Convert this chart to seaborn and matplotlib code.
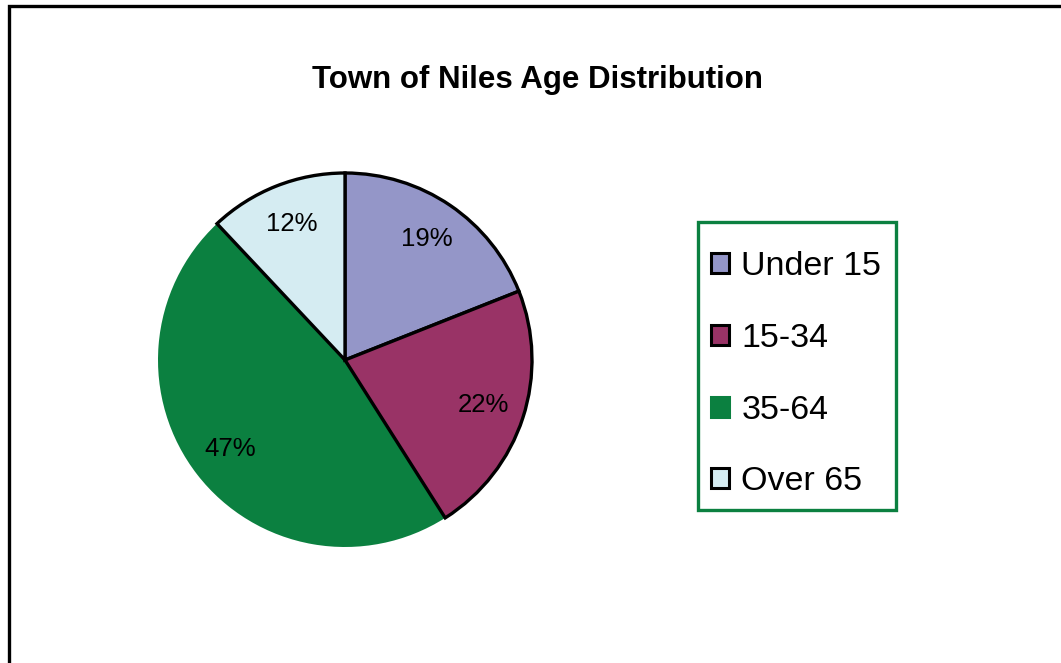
import matplotlib
matplotlib.use("Agg")
import matplotlib.pyplot as plt
from matplotlib.patches import Patch, Rectangle
import seaborn as sns

# data
age_groups = ["Under 15", "15-34", "35-64", "Over 65"]
shares = [19, 22, 47, 12]
slice_colors = ["#9496C8", "#993366", "#0B8040", "#D5ECF2"]
edge_colors = ["black", "black", "none", "black"]

sns.set_theme(style="white")
plt.rcParams["font.family"] = ["Liberation Sans", "DejaVu Sans"]
plt.rcParams["text.color"] = "black"

W, H = 1061, 663
fig = plt.figure(figsize=(W / 100, H / 100), dpi=100)
fig.patch.set_facecolor("white")

# pie placed so that centre ~ (346, 360) px and radius ~ 186 px
cx, cy, r = 345, 360, 187
lim = 1.03
half = r * lim
ax = fig.add_axes([(cx - half) / W, (H - cy - half) / H, 2 * half / W, 2 * half / H])

wedges, texts, autotexts = ax.pie(
    shares, colors=slice_colors, startangle=90, counterclock=False,
    autopct=lambda p: f"{p:.0f}%", pctdistance=0.78,
    textprops=dict(fontsize=18.5, color="black"),
)
for w, ec in zip(wedges, edge_colors):
    if ec == "none":
        w.set_edgecolor(w.get_facecolor())
        w.set_linewidth(0)
        w.set_zorder(1)
    else:
        w.set_edgecolor(ec)
        w.set_linewidth(2.4)
        w.set_zorder(2)
    w.set_joinstyle("miter")
for t in autotexts:
    t.set_zorder(3)
ax.set_xlim(-lim, lim)
ax.set_ylim(-lim, lim)
ax.set_aspect("equal")
ax.axis("off")

fig.text(537 / W, 1 - 80 / H, "Town of Niles Age Distribution",
         ha="center", va="center", fontsize=22.5, fontweight="bold")

handles = [Patch(facecolor=c, edgecolor=ec if ec != "none" else c, linewidth=2.2)
           for c, ec in zip(slice_colors, edge_colors)]
leg = fig.legend(handles, age_groups, loc="upper left",
                 bbox_to_anchor=(711 / W, 1 - 251 / H),
                 fontsize=24.5, frameon=False,
                 handlelength=0.53, handleheight=0.53, handletextpad=0.36,
                 labelspacing=1.2, borderpad=0, borderaxespad=0)

# legend frame, green like the 35-64 slice
fig.add_artist(Rectangle((698 / W, 1 - 510 / H), 198 / W, 288 / H,
                         transform=fig.transFigure, fill=False,
                         edgecolor="#0B8040", linewidth=2.4))

# outer chart border, running off the right and bottom edges
fig.add_artist(Rectangle((8.5 / W, -0.2), 1.2, 1 - 5.5 / H + 0.2,
                         transform=fig.transFigure, fill=False,
                         edgecolor="black", linewidth=2.4))

fig.savefig("out.png", dpi=100, facecolor="white")
